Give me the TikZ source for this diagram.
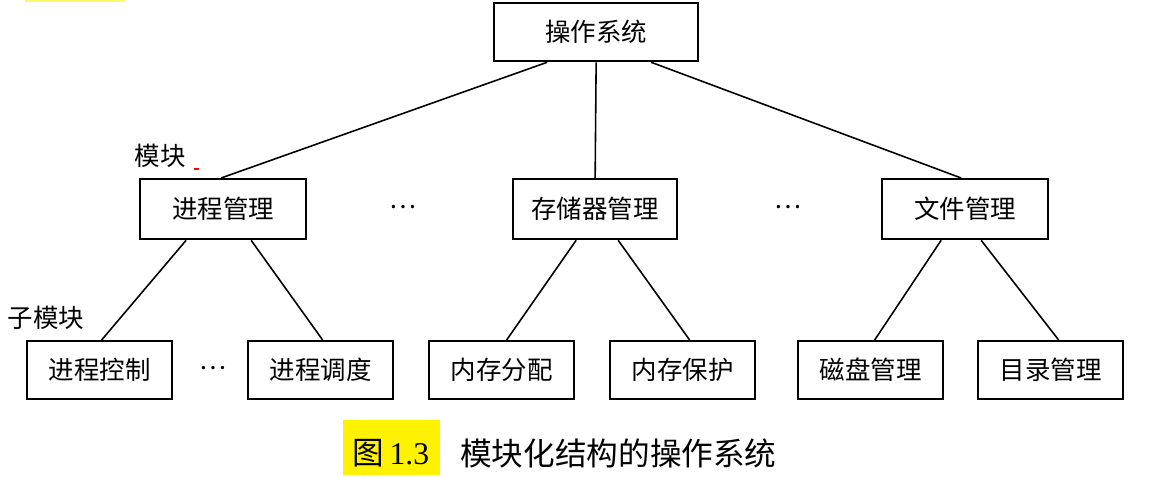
\documentclass[tikz,border=0pt]{standalone}
\usepackage{fontspec}
\newfontfamily\cjk{Noto Sans CJK SC}
\newfontfamily\tms{Liberation Serif}
\begin{document}
\begin{tikzpicture}[x=0.02cm,y=-0.02cm,
  box/.style={draw,line width=1.3pt,inner sep=0pt,anchor=north west,font=\cjk\fontsize{14.5}{16}\selectfont},
  lab/.style={font=\cjk\fontsize{14.5}{16}\selectfont,inner sep=0pt},
  ln/.style={line width=0.9pt}]
\useasboundingbox (0,0) rectangle (1174,479);
\fill[yellow!60] (25,-2) rectangle (125,2);
\node[box,minimum width=204*0.02cm,minimum height=58*0.02cm] (os) at (493,2) {操作系统};
\node[box,minimum width=166*0.02cm,minimum height=60*0.02cm] (pm) at (139,178) {进程管理};
\node[box,minimum width=164*0.02cm,minimum height=60*0.02cm] (sm) at (512,178) {存储器管理};
\node[box,minimum width=166*0.02cm,minimum height=60*0.02cm] (fm) at (881,178) {文件管理};
\foreach \n/\x/\t in {pc/26/进程控制,ps/247/进程调度,ma/428/内存分配,mp/609/内存保护,dm/797/磁盘管理,dr/977/目录管理}
  \node[box,minimum width=145*0.02cm,minimum height=58*0.02cm] (\n) at (\x,340) {\t};
\draw[ln] ([xshift=-49*0.02cm]os.south) -- ([xshift=-2*0.02cm]pm.north);
\draw[ln] (os.south) -- (sm.north);
\draw[ln] ([xshift=55*0.02cm]os.south) -- ([xshift=-4*0.02cm]fm.north);
\draw[ln] ([xshift=-37*0.02cm]pm.south) -- ([xshift=2*0.02cm]pc.north);
\draw[ln] ([xshift=28*0.02cm]pm.south) -- ([xshift=2*0.02cm]ps.north);
\draw[ln] ([xshift=-19*0.02cm]sm.south) -- ([xshift=5*0.02cm]ma.north);
\draw[ln] ([xshift=23*0.02cm]sm.south) -- ([xshift=7*0.02cm]mp.north);
\draw[ln] ([xshift=-24*0.02cm]fm.south) -- ([xshift=4*0.02cm]dm.north);
\draw[ln] ([xshift=16*0.02cm]fm.south) -- ([xshift=8*0.02cm]dr.north);
\node[lab] (mk) at (160,156) {模块};
\node[lab] (zmk) at (46,318) {子模块};
\node[lab] (d1) at (403,207) {…};
\node[lab] (d2) at (788,207) {…};
\node[lab] (d3) at (213,368) {…};
\fill[red] (194,168) rectangle (199,170);
\fill[yellow] (343,420) rectangle (440,475);
\node[font=\cjk\fontsize{18}{20}\selectfont,inner sep=0pt] (fig) at (391,453) {图\,{\tms 1.3}};
\node[font=\cjk\fontsize{18}{20}\selectfont,inner sep=0pt,anchor=west] (cap) at (460,453) {模块化结构的操作系统};
\end{tikzpicture}
\end{document}
